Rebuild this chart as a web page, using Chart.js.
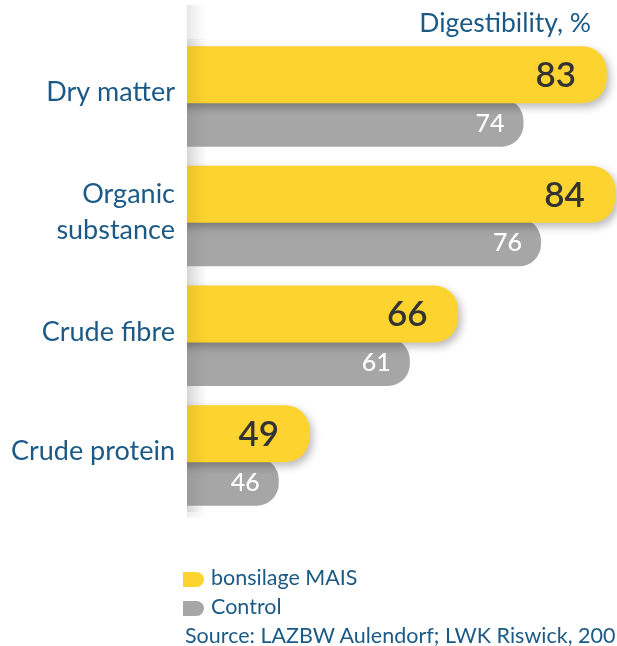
<!DOCTYPE html>
<html><head><meta charset="utf-8">
<script src="https://cdn.jsdelivr.net/npm/chart.js@4.4.1/dist/chart.umd.min.js"></script>
<style>
html,body{margin:0;padding:0;background:#fff;overflow:hidden;}
#wrap{position:relative;width:617px;height:646px;overflow:hidden;}
#c{position:absolute;left:0;top:0;}
.txt{position:absolute;font-family:Lato,"Open Sans",sans-serif;color:#1b5a86;white-space:nowrap;line-height:1;}
.sw{position:absolute;width:21px;height:15px;border-radius:0 8px 8px 0;}
</style></head>
<body>
<div id="wrap">
<canvas id="c" width="617" height="646"></canvas>
<div class="txt" id="title" style="right:26px;top:9px;font-size:26.5px;"></div>
<div id="legend"></div>
<div class="txt" id="source" style="left:185px;top:625px;font-size:21.5px;"></div>
</div>
<script>
const categories = [['Dry matter'], ['Organic', 'substance'], ['Crude fibre'], ['Crude protein']];
const bonsilageValues = [83, 84, 66, 49];
const controlValues = [74, 76, 61, 46];
const seriesNames = ['bonsilage MAIS', 'Control'];
const seriesColors = ['#fdd32f', '#a6a6a6'];
const axisTitle = 'Digestibility, %';
const sourceNote = 'Source: LAZBW Aulendorf; LWK Riswick, 200';

document.getElementById('title').textContent = axisTitle;
document.getElementById('source').textContent = sourceNote;
const leg = document.getElementById('legend');
seriesNames.forEach((name, i) => {
  const sw = document.createElement('div');
  sw.className = 'sw';
  sw.style.left = '183px';
  sw.style.top = (572 + i * 29) + 'px';
  sw.style.background = seriesColors[i];
  leg.appendChild(sw);
  const t = document.createElement('div');
  t.className = 'txt';
  t.style.left = '211px';
  t.style.top = (567 + i * 29) + 'px';
  t.style.fontSize = '21.5px';
  t.textContent = name;
  leg.appendChild(t);
});

const stripPlugin = {
  id: 'strip',
  beforeDatasetsDraw(chart) {
    const c = chart.ctx, L = chart.chartArea.left;
    c.save();
    const g = c.createLinearGradient(L, 0, L + 21, 0);
    g.addColorStop(0, '#e6e6e6');
    g.addColorStop(1, 'rgba(245,245,245,0)');
    c.fillStyle = g;
    c.beginPath();
    c.roundRect(L, 5, 21, 507, [0, 12, 12, 0]);
    c.fill();
    c.restore();
  },
  afterDatasetsDraw(chart) {
    const c = chart.ctx, L = chart.chartArea.left;
    c.save();
    const g = c.createLinearGradient(L, 0, L + 20, 0);
    g.addColorStop(0, 'rgba(0,0,0,0.07)');
    g.addColorStop(1, 'rgba(0,0,0,0)');
    c.fillStyle = g;
    c.fillRect(L, chart.chartArea.top, 20, chart.chartArea.bottom - chart.chartArea.top);
    c.restore();
    chart.data.datasets.forEach((ds, d) => {
      const meta = chart.getDatasetMeta(d);
      meta.data.forEach((el, i) => {
        c.save();
        c.textAlign = 'right';
        c.textBaseline = 'middle';
        if (d === 0) {
          c.font = '600 35px Lato';
          c.fillStyle = '#333333';
          c.fillText(String(ds.data[i]), el.x - 26, el.y + 1);
        } else {
          c.font = '500 25px Lato';
          c.fillStyle = '#ffffff';
          c.fillText(String(ds.data[i]), el.x - 19, el.y + 1);
        }
        c.restore();
      });
    });
  }
};

const shadowPlugin = {
  id: 'barShadow',
  beforeDatasetDraw(chart, args) {
    if (args.index === 0) {
      const c = chart.ctx;
      c.save();
      c.shadowColor = 'rgba(0,0,0,0.28)';
      c.shadowBlur = 8;
      c.shadowOffsetX = 3;
      c.shadowOffsetY = 4;
    }
  },
  afterDatasetDraw(chart, args) {
    if (args.index === 0) chart.ctx.restore();
  }
};

new Chart(document.getElementById('c'), {
  type: 'bar',
  data: {
    labels: categories,
    datasets: [
      { label: seriesNames[0], data: bonsilageValues, backgroundColor: seriesColors[0],
        barThickness: 48, borderRadius: 28, inflateAmount: 4.5, borderSkipped: 'start',
        clip: { left: 0, top: false, right: false, bottom: false } },
      { label: seriesNames[1], data: controlValues, backgroundColor: seriesColors[1],
        barThickness: 48, borderRadius: 22, inflateAmount: 0, borderSkipped: 'start',
        clip: { left: 0, top: false, right: false, bottom: false } }
    ]
  },
  options: {
    indexAxis: 'y',
    responsive: false,
    animation: false,
    devicePixelRatio: 1,
    layout: { padding: { top: 38.85, bottom: 128.5, left: 0, right: 0 } },
    plugins: { legend: { display: false }, tooltip: { enabled: false }, title: { display: false } },
    scales: {
      x: { display: false, min: 35.5, max: 84.7 },
      y: {
        grid: { display: false, drawTicks: false },
        border: { display: false },
        ticks: { color: '#1b5a86', font: { family: 'Lato', size: 27, lineHeight: 1.3 }, padding: 12, labelOffset: -6 },
        afterFit(scale) { scale.width = 187; }
      }
    }
  },
  plugins: [stripPlugin, shadowPlugin]
});
</script>
</body></html>
